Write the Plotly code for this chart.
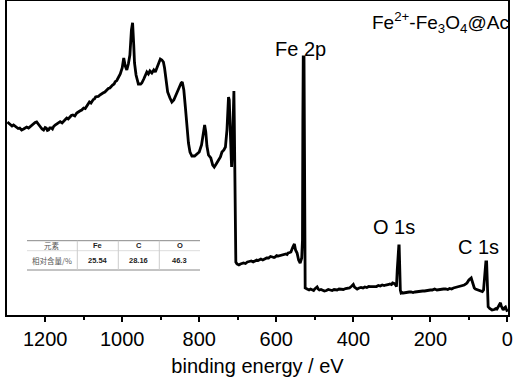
import plotly.graph_objects as go

# ---------------- data ----------------
binding_energy = [1298, 1294, 1290, 1286, 1282, 1278, 1274, 1270, 1266, 1261, 1256, 1252, 1248, 1243, 1239, 1234,
                  1230, 1226, 1222, 1218, 1214, 1208, 1204, 1200, 1197, 1194, 1191, 1188, 1184, 1181, 1178, 1174,
                  1170, 1165, 1161, 1156, 1152, 1148, 1144, 1140, 1136, 1132, 1128, 1123, 1118, 1114, 1110, 1105,
                  1100, 1096, 1092, 1088, 1085, 1081, 1078, 1075, 1072, 1069, 1066, 1062, 1058, 1054, 1050, 1045,
                  1040, 1036, 1032, 1028, 1025, 1021, 1018, 1014, 1010, 1005, 1000, 996, 992, 988, 984, 980, 976,
                  973, 970, 968, 964, 958, 952, 949, 944, 940, 936, 932, 928, 923, 918, 914, 910, 905, 901, 897,
                  893, 890, 886, 882, 876, 871, 866, 862, 858, 852, 847, 844, 840, 836, 832, 828, 824, 819, 812,
                  806, 800, 794, 789, 786, 783, 780, 776, 770, 765, 761, 756, 750, 745, 741, 736, 732, 728, 724,
                  722, 719, 716, 714, 712, 710, 709, 707, 706, 705, 702, 697, 693, 689, 685, 680, 675, 670, 665,
                  660, 655, 651, 647, 643, 640, 635, 630, 625, 620, 615, 610, 606, 603, 599, 595, 590, 585, 580,
                  575, 572, 569, 565, 562, 557, 553, 550, 546, 542, 538, 534, 532, 531, 530, 528, 527, 526, 525,
                  520, 515, 511, 507, 503, 500, 497, 494, 491, 488, 484, 480, 475, 470, 465, 460, 455, 450, 446,
                  442, 437, 432, 426, 420, 415, 410, 404, 400, 397, 393, 390, 385, 380, 375, 370, 365, 360, 356,
                  350, 345, 340, 335, 330, 325, 320, 316, 312, 308, 305, 301, 298, 294, 290, 288, 286, 284, 282,
                  281, 280, 278, 276, 273, 270, 265, 260, 255, 250, 245, 240, 233, 226, 220, 215, 210, 205, 200,
                  195, 189, 183, 178, 172, 166, 160, 155, 150, 145, 140, 135, 130, 125, 120, 116, 112, 108, 105,
                  100, 96, 94, 90, 86, 83, 80, 75, 70, 65, 62, 58, 56, 54, 52, 50, 46, 43, 40, 34, 30, 27, 23, 20,
                  18, 16, 13, 11, 8, 5, 3, 0]
intensity = [193, 191.5, 191, 189, 190, 188.5, 188, 186.5, 187, 185, 186, 187.5, 188, 187, 188.5, 190,
             191, 192.5, 193, 190.5, 189, 186, 185, 187.5, 187, 184.5, 185, 187, 187, 186, 188.5, 190,
             191, 192, 193.3, 192, 194, 195.5, 197, 196, 198, 199.5, 200, 199, 202, 203.5, 204, 205,
             207, 206.5, 209, 211, 213, 212, 214, 215.5, 216, 218, 218.3, 218.5, 220, 221.5, 222, 223,
             225, 226.5, 227, 229, 230, 231, 233.3, 234.5, 237, 241, 247, 257, 249, 245, 251, 260, 285,
             292.3, 270, 252, 240, 231, 231, 232, 236, 239, 243, 241, 244, 242, 245, 243, 247, 251, 256, 255,
             253, 247, 233, 223, 217, 213, 215, 219, 223, 229, 232, 233, 225, 208, 190, 172, 163, 159, 159,
             161, 163, 170, 182, 190, 183, 169, 160, 157, 150, 148, 151, 155, 158, 163, 165, 168, 185, 218,
             215, 180, 148, 165, 205, 224, 195, 135, 85, 53, 51, 50, 51, 51.5, 52, 51.5, 53, 53.5, 54,
             53, 54, 55, 54.5, 55.5, 56, 55, 56, 57, 57, 58.5, 58, 57.5, 58, 59.5, 59, 59.5, 60, 61,
             61, 60.5, 62, 62.5, 63, 68, 71, 65, 62, 55, 52, 57, 75, 195, 258, 258, 165, 35, 27,
             26, 25, 26, 25, 24.5, 26, 27, 28, 26, 25, 25.5, 25, 24, 24.5, 25.5, 25, 24.5, 25.5, 25,
             25, 26, 26, 25.5, 26.5, 27, 27, 29, 30.5, 28, 27, 26, 27, 27.5, 27, 28, 27.5, 28.5, 28.3,
             28.5, 29, 28.5, 29.5, 29, 30, 29.5, 30, 30, 30.5, 31, 30.5, 32, 31.5, 30, 28.3, 45, 65, 69,
             69, 50, 25, 22, 22.5, 22, 22.5, 22.3, 23, 23, 22.5, 23, 23.5, 23.3, 24, 24, 24.5, 24.5, 25,
             25, 26, 25, 25.5, 25.5, 26, 26, 25.5, 26.5, 26, 27, 27.5, 27.5, 28, 29, 29.5, 30, 31, 32,
             35, 37, 37, 32, 27, 26, 25.5, 25, 24.5, 23.5, 25, 40, 53, 53, 30, 8.3, 6.5, 5.5, 5, 5.5, 6.5, 6, 9, 12,
             12.3, 9, 5, 5, 7, 8, 6, 3.3]

x_ticks = [1200, 1000, 800, 600, 400, 200, 0]

peak_labels = ["Fe 2p", "O 1s", "C 1s"]
sample_name = "Fe<sup>2+</sup>-Fe<sub>3</sub>O<sub>4</sub>@Ac"

table_header = ["元素", "Fe", "C", "O"]
table_row = ["相对含量/%", "25.54", "28.16", "46.3"]

# ---------------- layout helpers (pixel -> paper) ----------------
W, H = 519, 379
L, R, T, B = 7, 508, 1, 315


def px(x):
    return (x - L) / (R - L)


def py(y):
    return (B - y) / (B - T)


fig = go.Figure()
fig.add_trace(go.Scatter(x=binding_energy, y=intensity, mode="lines",
                         line=dict(color="black", width=2.8), showlegend=False,
                         hoverinfo="skip"))

annotations = []
# peak labels
peak_pos = [(300, 49), (393.5, 226.5), (478.5, 247)]
for txt, (xx, yy) in zip(peak_labels, peak_pos):
    annotations.append(dict(text=txt, x=px(xx), y=py(yy), xref="paper", yref="paper",
                            showarrow=False, xanchor="center", yanchor="middle",
                            font=dict(family="Liberation Sans, Arial", size=20, color="black")))
annotations.append(dict(text=sample_name, x=px(511), y=py(23), xref="paper", yref="paper",
                        showarrow=False, xanchor="right", yanchor="middle",
                        font=dict(family="Liberation Sans, Arial", size=19, color="black")))

# table
col_centers = [52, 97.5, 138.5, 179.5]
row_y = [245.5, 260.5]
for i, (h, v) in enumerate(zip(table_header, table_row)):
    cjk = i == 0
    fnt_h = dict(family="Noto Sans CJK SC" if cjk else "Liberation Sans, Arial", size=7.5,
                 color="#555" if cjk else "#222")
    annotations.append(dict(text=h if cjk else f"<b>{h}</b>", x=px(col_centers[i]), y=py(row_y[0]),
                            xref="paper", yref="paper", showarrow=False,
                            xanchor="center", yanchor="middle", font=fnt_h))
    annotations.append(dict(text=v if cjk else f"<b>{v}</b>", x=px(col_centers[i]), y=py(row_y[1]),
                            xref="paper", yref="paper", showarrow=False,
                            xanchor="center", yanchor="middle", font=fnt_h))

shapes = []
for yy, c in [(240.7, "#888"), (250.7, "#ddd"), (270, "#888")]:
    shapes.append(dict(type="line", xref="paper", yref="paper", x0=px(27), x1=px(200),
                       y0=py(yy), y1=py(yy), line=dict(color=c, width=1)))
for xx in [77.3, 118.3, 159.3]:
    shapes.append(dict(type="line", xref="paper", yref="paper", x0=px(xx), x1=px(xx),
                       y0=py(240.7), y1=py(270), line=dict(color="#ccc", width=1)))

fig.update_layout(
    width=W, height=H,
    margin=dict(l=L, r=W - R, t=T, b=H - B, autoexpand=False),
    paper_bgcolor="white", plot_bgcolor="white",
    annotations=annotations, shapes=shapes,
    xaxis=dict(range=[1299, -1.5], tickvals=x_ticks, ticktext=[str(v) for v in x_ticks],
               automargin=False,
               ticks="outside", ticklen=5, tickwidth=1.5, tickcolor="black",
               minor=dict(ticks="outside", ticklen=3, tickwidth=1.5, tickcolor="black", dtick=100,
                          tick0=0, showgrid=False),
               showline=True, linewidth=1.5, linecolor="black", mirror=True,
               showgrid=False, zeroline=False,
               tickfont=dict(family="Liberation Sans, Arial", size=20, color="black"),
               title=dict(text="binding energy / eV", standoff=10,
                          font=dict(family="Liberation Sans, Arial", size=20, color="black"))),
    yaxis=dict(range=[0, 314], showticklabels=False, ticks="", showgrid=False, zeroline=False,
               automargin=False,
               showline=True, linewidth=1.5, linecolor="black", mirror=True),
)

fig.write_html("out.html", config={"displayModeBar": False},
               post_script="document.body.style.margin='0';document.body.style.overflow='hidden';")
